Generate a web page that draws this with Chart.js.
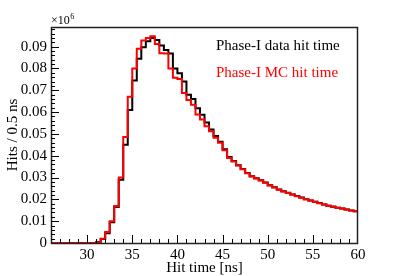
<!DOCTYPE html>
<html>
<head>
<meta charset="utf-8">
<script src="https://cdn.jsdelivr.net/npm/chart.js@4.4.0/dist/chart.umd.min.js"></script>
<style>
html,body{margin:0;padding:0;background:#fff;}
#wrap{width:407px;height:276px;position:relative;}
</style>
</head>
<body>
<div id="wrap"><canvas id="c" width="407" height="276"></canvas></div>
<script>
// Bin lower edges (ns), bin width 0.5 ns; last entry is the upper edge of the final bin
const binEdges = [26,26.5,27,27.5,28,28.5,29,29.5,30,30.5,31,31.5,32,32.5,33,33.5,34,34.5,35,35.5,
  36,36.5,37,37.5,38,38.5,39,39.5,40,40.5,41,41.5,42,42.5,43,43.5,44,44.5,45,45.5,
  46,46.5,47,47.5,48,48.5,49,49.5,50,50.5,51,51.5,52,52.5,53,53.5,54,54.5,55,55.5,
  56,56.5,57,57.5,58,58.5,59,59.5,60];

// Hits per bin in units of 10^6
const dataHits = [0,0,0,0,0,0,0,0,0,0,
  0.0005,0.0018,0.0045,0.0095,0.0165,0.029,0.045,0.061,0.0745,0.0844,
  0.0897,0.0925,0.094,0.093,0.0905,0.0885,0.0868,0.080,0.0778,0.0740,
  0.068,0.066,0.0618,0.0588,0.0552,0.052,0.049,0.0464,0.043,0.0394,
  0.0376,0.0356,0.0339,0.0321,0.0306,0.0297,0.0288,0.0277,0.0265,0.0255,
  0.0245,0.0237,0.0230,0.0222,0.0215,0.0208,0.0201,0.0195,0.0189,0.0183,
  0.0177,0.0171,0.0166,0.0162,0.0158,0.0154,0.0149,0.0145];

const mcHits = [0,0,0,0,0,0,0,0,0,0,
  0.0003,0.002,0.005,0.010,0.017,0.030,0.0486,0.067,0.080,0.089,
  0.0928,0.094,0.0948,0.0912,0.087,0.0868,0.080,0.0757,0.0752,0.0688,
  0.0655,0.0634,0.0589,0.0566,0.0535,0.0512,0.0482,0.0459,0.0425,0.039,
  0.0374,0.0355,0.0338,0.032,0.0305,0.0296,0.0287,0.0276,0.0264,0.0254,
  0.0244,0.0236,0.0229,0.0222,0.0214,0.0207,0.0201,0.0195,0.0189,0.0182,
  0.0176,0.0171,0.0167,0.0162,0.0158,0.0154,0.0149,0.0145];

const xTicks = [30,35,40,45,50,55,60];
const yTicks = [0,0.01,0.02,0.03,0.04,0.05,0.06,0.07,0.08,0.09];
const seriesNames = ["Phase-I data hit time","Phase-I MC hit time"];
const xTitle = "Hit time [ns]";
const yTitle = "Hits / 0.5 ns";

function toPoints(vals){
  const pts = vals.map((v,i)=>({x:binEdges[i], y:v}));
  pts.push({x:binEdges[vals.length], y:vals[vals.length-1]});
  return pts;
}

const FONT = "'Liberation Serif','Times New Roman',serif";
const L=51, T=27, R=358, B=243;

const rootPlugin = {
  id:'rootStyle',
  afterDraw(chart){
    const ctx = chart.ctx;
    const ca = chart.chartArea;
    const xs = chart.scales.x, ys = chart.scales.y;
    ctx.save();
    // frame
    ctx.strokeStyle = '#222';
    ctx.lineWidth = 1.5;
    ctx.strokeRect(Math.round(ca.left)+0.5, Math.round(ca.top)+0.5, Math.round(ca.right-ca.left)-1, Math.round(ca.bottom-ca.top));
    // x ticks (inward)
    ctx.lineWidth = 1;
    ctx.strokeStyle = '#000';
    ctx.beginPath();
    for(let t=27;t<=59;t++){
      const px = Math.round(xs.getPixelForValue(t))+0.5;
      const len = (t%5===0)?8:4;
      ctx.moveTo(px, ca.bottom); ctx.lineTo(px, ca.bottom-len);
    }
    // y ticks (inward)
    for(let k=1;k<=49;k++){
      const v = k*0.002;
      const py = Math.round(ys.getPixelForValue(v))+0.5;
      if(py < ca.top+1) continue;
      const len = (k%5===0)?8:4;
      ctx.moveTo(ca.left, py); ctx.lineTo(ca.left+len, py);
    }
    ctx.stroke();
    // exponent label
    ctx.fillStyle='#000';
    ctx.font = '12px '+FONT;
    ctx.textBaseline='alphabetic';
    ctx.textAlign='left';
    ctx.fillText('\u00d710', ca.left, ca.top-3);
    const w = ctx.measureText('\u00d710').width;
    ctx.font = '8px '+FONT;
    ctx.fillText('6', ca.left+w+0.5, ca.top-8);
    // axis titles
    ctx.font = '15px '+FONT;
    ctx.textAlign='center';
    ctx.textBaseline='middle';
    ctx.fillText(xTitle, (ca.left+ca.right)/2, 268);
    ctx.save();
    ctx.translate(13, (ca.top+ca.bottom)/2);
    ctx.rotate(-Math.PI/2);
    ctx.fillText(yTitle, 0, 0);
    ctx.restore();
    // legend
    ctx.font = '15px '+FONT;
    ctx.textAlign='left';
    ctx.textBaseline='middle';
    ctx.fillStyle='#000';
    ctx.fillText(seriesNames[0], 216, 46);
    ctx.fillStyle='#ff0000';
    ctx.fillText(seriesNames[1], 216, 73);
    ctx.restore();
  }
};

new Chart(document.getElementById('c'), {
  type:'line',
  data:{
    datasets:[
      {label:seriesNames[1], data:toPoints(mcHits), borderColor:'#ff0000', borderWidth:2, stepped:'before', pointRadius:0, fill:false, order:0},
      {label:seriesNames[0], data:toPoints(dataHits), borderColor:'#000000', borderWidth:2, stepped:'before', pointRadius:0, fill:false, order:1}
    ]
  },
  options:{
    responsive:false,
    animation:false,
    devicePixelRatio:1,
    layout:{padding:{left:0, top:T, right:407-R, bottom:0}},
    plugins:{legend:{display:false}, tooltip:{enabled:false}},
    scales:{
      x:{
        type:'linear', min:26, max:60,
        grid:{display:false, drawTicks:false},
        border:{display:false},
        afterBuildTicks(s){ s.ticks = xTicks.map(v=>({value:v})); },
        afterFit(s){ s.height = 276-B; },
        ticks:{color:'#000', font:{family:FONT, size:15}, padding:3, maxRotation:0, autoSkip:false, callback:v=>String(v)}
      },
      y:{
        type:'linear', min:0, max:0.099,
        grid:{display:false, drawTicks:false},
        border:{display:false},
        afterBuildTicks(s){ s.ticks = yTicks.map(v=>({value:v})); },
        afterFit(s){ s.width = L; },
        ticks:{color:'#000', font:{family:FONT, size:15}, padding:4, autoSkip:false, callback:v=> v===0?'0':Number(v).toFixed(2)}
      }
    }
  },
  plugins:[rootPlugin]
});
</script>
</body>
</html>
